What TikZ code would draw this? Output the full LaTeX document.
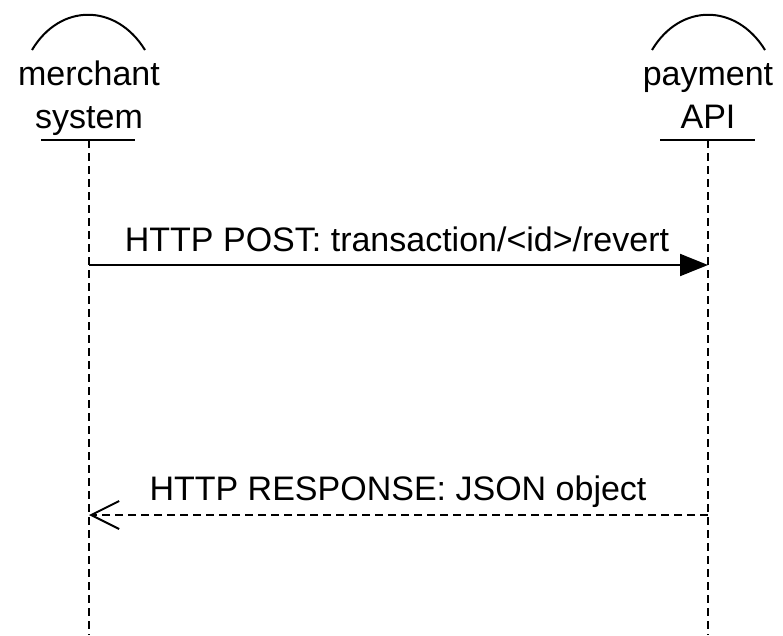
\documentclass[tikz,border=0pt]{standalone}
\usepackage{fontspec}
\setmainfont{Liberation Sans}
\usetikzlibrary{arrows.meta}
\begin{document}
\begin{tikzpicture}[x=1pt,y=-1pt,
  lbl/.style={inner sep=0pt,anchor=base,font=\fontsize{34}{40}\selectfont},
  ln/.style={line width=2pt},
  life/.style={line width=2pt,dash pattern=on 8pt off 5pt},
  msg/.style={line width=2pt,-{Triangle[length=28pt,width=22pt]}},
  ret/.style={line width=2pt,dash pattern=on 8pt off 5pt,-{Straight Barb[length=28pt,width=28pt,line width=2pt]}}]
\useasboundingbox (0,0) rectangle (783,635);
% merchant system
\draw[ln] (32,50) .. controls (60,3) and (116,3) .. (145,50);
\node[lbl] (m1) at (89,85) {merchant};
\node[lbl] (m2) at (89,128) {system};
\coordinate (mtop) at (89,140);
\coordinate (mbot) at (89,635);
\draw[ln] (41,140) -- (135,140);
\draw[life] (mtop) -- (mbot);
% payment API
\draw[ln] (652,50) .. controls (680,3) and (736,3) .. (765,50);
\node[lbl] (p1) at (708,85) {payment};
\node[lbl] (p2) at (708,128) {API};
\coordinate (ptop) at (708,140);
\coordinate (pbot) at (708,635);
\draw[ln] (660,140) -- (755,140);
\draw[life] (ptop) -- (pbot);
% messages
\coordinate (a1) at (89,265);
\coordinate (b1) at (708,265);
\draw[msg] (a1) -- (b1);
\node[lbl] (t1) at (397,251) {HTTP POST: transaction/<id>/revert};
\coordinate (a2) at (89,515);
\coordinate (b2) at (708,515);
\draw[ret] (b2) -- (a2);
\node[lbl] (t2) at (398,500) {HTTP RESPONSE: JSON object};
\end{tikzpicture}
\end{document}
